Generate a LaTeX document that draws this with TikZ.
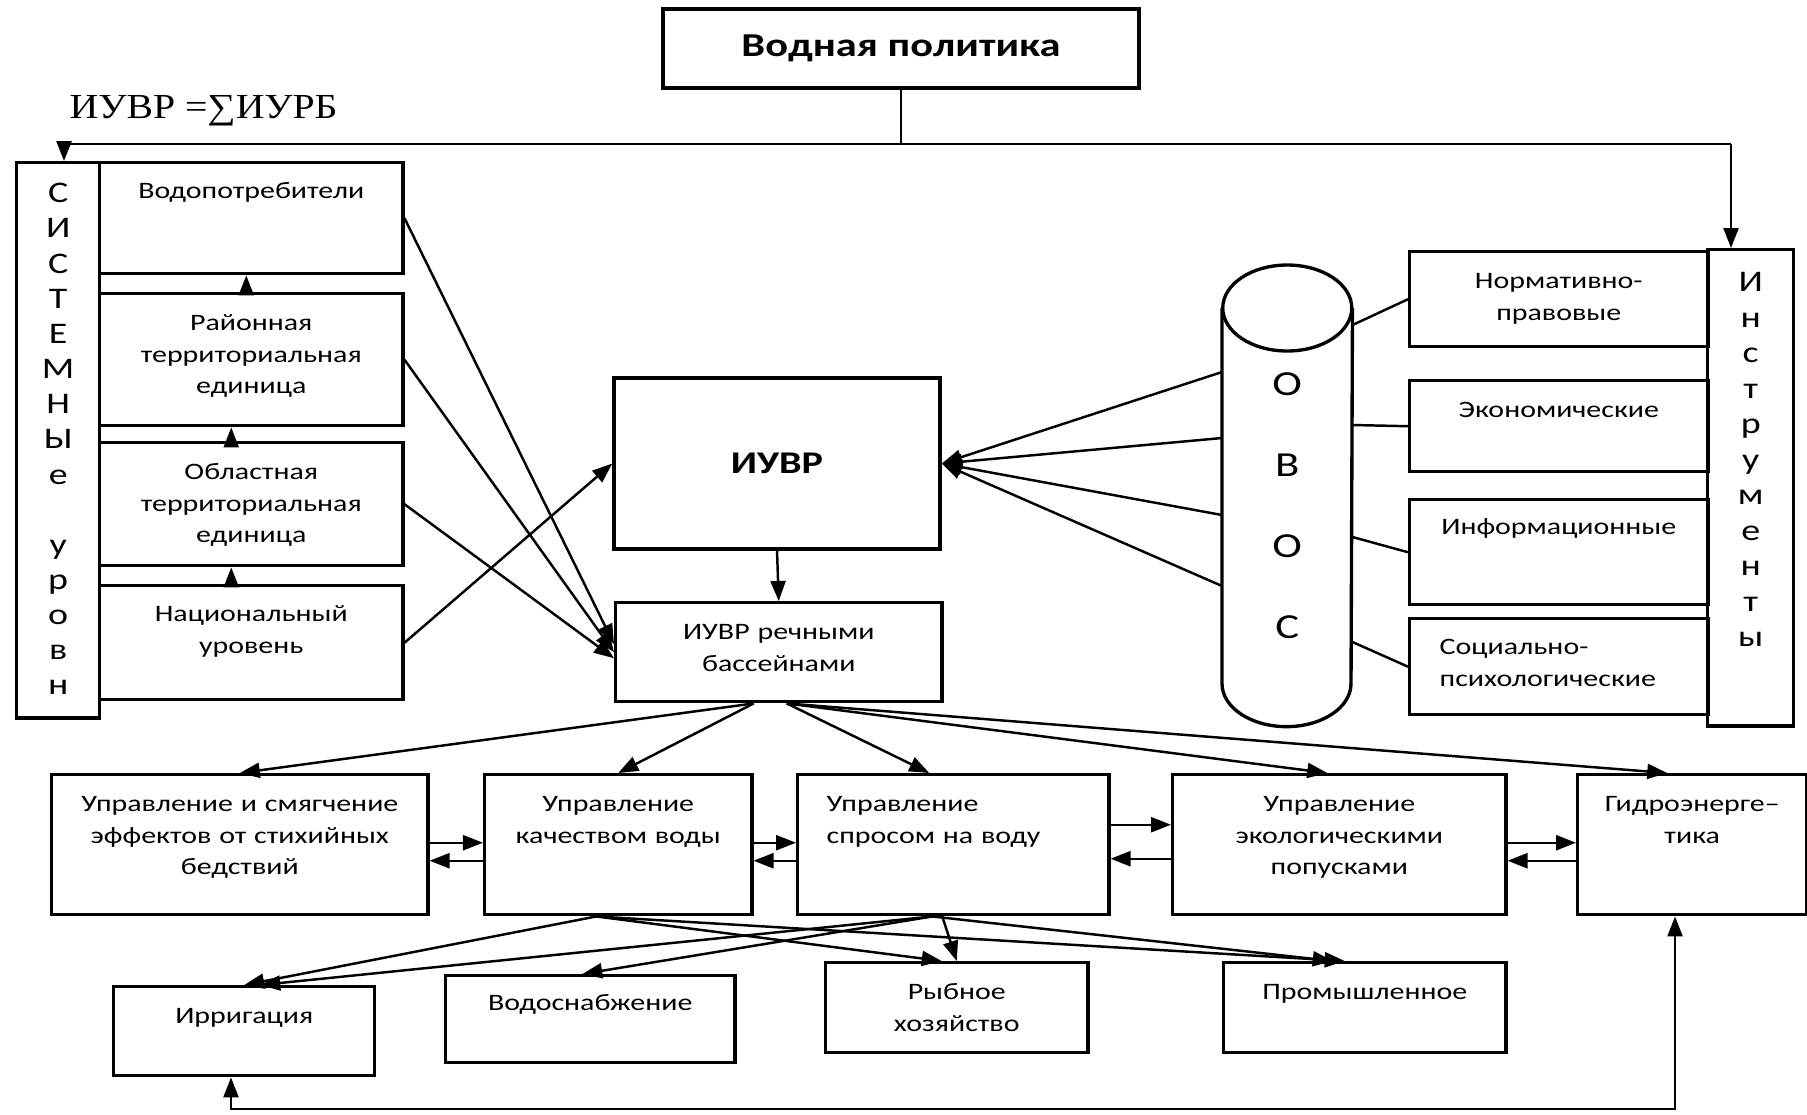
\documentclass[tikz,border=0pt]{standalone}
\usepackage{fontspec}
\setmainfont{Carlito}[FakeStretch=1.27]
\newfontfamily\formulafont{Liberation Serif}[FakeStretch=1.13]
\usetikzlibrary{arrows.meta,calc}
\tikzset{
  box/.style={draw, line width=0.95pt, inner sep=0pt, align=center, font=\fontsize{6.7}{8.9}\selectfont},
  col/.style={box, font=\fontsize{8.5}{10}\selectfont},
  link/.style={line width=0.7pt},
  arr/.style={line width=0.7pt, -{Triangle[length=2mm,width=1.5mm]}},
  darr/.style={line width=0.7pt, {Triangle[length=2mm,width=1.5mm]}-{Triangle[length=2mm,width=1.5mm]}},
}
\begin{document}
\begin{tikzpicture}[x=0.01cm, y=-0.01cm]
\useasboundingbox (0,0) rectangle (1807,1114);

\node[box, font=\bfseries\fontsize{9.5}{11}\selectfont, minimum width=4.76cm, minimum height=0.79cm] (policy) at (901,48.5) {Водная политика};
\node[font=\formulafont\fontsize{10}{12}\selectfont, anchor=west, inner sep=0pt] (formula) at (69,111) {ИУВР =∑ИУРБ};

% levels
\node[col, anchor=north west, text width=0.83cm, text height=0.40cm, text depth=5.15cm] (sys) at (15,161) {С\\И\\С\\Т\\Е\\М\\Н\\Ы\\е\\[0.35cm]у\\р\\о\\в\\н};
\node[box, anchor=north west, text width=3.03cm, text height=0.36cm, text depth=0.75cm] (users) at (98,161) {Водопотребители};
\node[box, anchor=north west, text width=3.03cm, text height=0.37cm, text depth=0.95cm] (district) at (98,292) {Районная\\территориальная\\единица};
\node[box, anchor=north west, text width=3.03cm, text height=0.37cm, text depth=0.86cm] (region) at (98,441) {Областная\\территориальная\\единица};
\node[box, anchor=north west, text width=3.03cm, text height=0.36cm, text depth=0.78cm] (national) at (98,584) {Национальный\\уровень};
\draw[arr] ($(district.north)+(-5,0)$) -- ($(users.south)+(-5,0)$);
\draw[arr] ($(region.north)+(-20,0)$) -- ($(district.south)+(-20,0)$);
\draw[arr] ($(national.north)+(-20,0)$) -- ($(region.south)+(-20,0)$);

\node[box, font=\bfseries\fontsize{9}{11}\selectfont, minimum width=3.26cm, minimum height=1.71cm] (iwrm) at (777,463.5) {ИУВР};
\node[box, anchor=north west, text width=3.26cm, text height=0.37cm, text depth=0.62cm] (basin) at (614,601) {ИУВР речными\\бассейнами};
\draw[arr] (users.east) -- ($(basin.west)+(0,-8)$);
\draw[arr] (district.east) -- (basin.west);
\draw[arr] (region.east) -- ($(basin.west)+(0,6)$);
\draw[arr] (national.east) -- (iwrm.west);
\draw[arr] (iwrm.south) -- (basin.north);

% ovos cylinder
\node[inner sep=0pt, align=center, anchor=north west, text width=1.29cm, text height=0.87cm, text depth=2.87cm, font=\fontsize{10}{23}\selectfont] (ovos) at (1222,308) {О\\В\\О\\С};
\draw[line width=0.95pt] (ovos.north west) -- (ovos.south west) arc[start angle=180, end angle=0, x radius=64.5, y radius=43] -- (ovos.north east);
\draw[line width=0.95pt] (ovos.north) ellipse [x radius=64.5, y radius=43];
\draw[arr] ($(ovos.north west)+(0,64)$) -- (iwrm.east);
\draw[arr] ($(ovos.north west)+(0,130)$) -- (iwrm.east);
\draw[arr] ($(ovos.north west)+(0,207)$) -- (iwrm.east);
\draw[arr] ($(ovos.north west)+(0,278)$) -- (iwrm.east);

% instruments
\node[box, anchor=north west, text width=2.98cm, text height=0.37cm, text depth=0.58cm] (norm) at (1408,250) {Нормативно-\\правовые};
\node[box, anchor=north west, text width=2.98cm, text height=0.37cm, text depth=0.54cm] (econ) at (1408,379) {Экономические};
\node[box, anchor=north west, text width=2.98cm, text height=0.35cm, text depth=0.70cm] (info) at (1408,498) {Информационные};
\node[box, anchor=north west, align=left, inner xsep=0.30cm, text width=2.38cm, text height=0.36cm, text depth=0.60cm] (soc) at (1408,617) {Социально-\\психологические};
\node[col, anchor=north west, text width=0.86cm, text height=0.42cm, text depth=4.34cm, font=\fontsize{8.5}{10.1}\selectfont] (instr) at (1706,248) {И\\н\\с\\т\\р\\у\\м\\е\\н\\т\\ы};
\draw[link] ($(ovos.north east)+(0,17)$) -- (norm.west);
\draw[link] ($(ovos.north east)+(0,117)$) -- (econ.west);
\draw[link] ($(ovos.north east)+(0,229)$) -- (info.west);
\draw[link] ($(ovos.north east)+(0,334)$) -- (soc.west);

% policy line
\coordinate (tl) at (64,144);
\coordinate (tr) at (1731,144);
\draw[link] (policy.south) -- (policy.south |- tl);
\draw[link] (tl) -- (tr);
\draw[arr] (tl) -- (tl |- sys.north);
\draw[arr] (tr) -- (tr |- instr.north);

% management
\node[box, anchor=north west, text width=3.76cm, text height=0.37cm, text depth=1.03cm] (disaster) at (50,773) {Управление и смягчение\\эффектов от стихийных\\бедствий};
\node[box, anchor=north west, text width=2.67cm, text height=0.37cm, text depth=1.03cm] (quality) at (483,773) {Управление\\качеством воды};
\node[box, anchor=north west, align=left, inner xsep=0.29cm, text width=2.53cm, text height=0.37cm, text depth=1.03cm] (demand) at (796,773) {Управление\\спросом на воду};
\node[box, anchor=north west, text width=3.33cm, text height=0.37cm, text depth=1.03cm] (eflow) at (1171,773) {Управление\\экологическими\\попусками};
\node[box, anchor=north west, text width=2.29cm, text height=0.37cm, text depth=1.03cm] (hydro) at (1576,773) {Гидроэнерге–\\тика};
\draw[arr] ($(basin.south)+(-25,0)$) -- (disaster.north);
\draw[arr] ($(basin.south)+(-25,0)$) -- (quality.north);
\draw[arr] ($(basin.south)+(8,0)$) -- ($(demand.north)+(-24,0)$);
\draw[arr] ($(basin.south)+(8,0)$) -- ($(eflow.north)+(-12,0)$);
\draw[arr] ($(basin.south)+(8,0)$) -- ($(hydro.north)+(-25,0)$);
\draw[arr] ($(disaster.east)+(0,-2)$) -- ($(quality.west)+(0,-2)$);
\draw[arr] ($(quality.west)+(0,16)$) -- ($(disaster.east)+(0,16)$);
\draw[arr] ($(quality.east)+(0,-2)$) -- ($(demand.west)+(0,-2)$);
\draw[arr] ($(demand.west)+(0,16)$) -- ($(quality.east)+(0,16)$);
\draw[arr] ($(demand.east)+(0,-20)$) -- ($(eflow.west)+(0,-20)$);
\draw[arr] ($(eflow.west)+(0,14)$) -- ($(demand.east)+(0,14)$);
\draw[arr] ($(eflow.east)+(0,-2)$) -- ($(hydro.west)+(0,-2)$);
\draw[arr] ($(hydro.west)+(0,16)$) -- ($(eflow.east)+(0,16)$);

% users of water
\node[box, anchor=north west, text width=2.61cm, text height=0.37cm, text depth=0.52cm] (irrigation) at (112,985) {Ирригация};
\node[box, anchor=north west, text width=2.89cm, text height=0.35cm, text depth=0.52cm] (supply) at (444,974) {Водоснабжение};
\node[box, anchor=north west, text width=2.62cm, text height=0.37cm, text depth=0.53cm] (fishery) at (824,961) {Рыбное\\хозяйство};
\node[box, anchor=north west, text width=2.82cm, text height=0.37cm, text depth=0.53cm] (industry) at (1222,961) {Промышленное};
\draw[arr] ($(quality.south)+(-22,0)$) -- (irrigation.north);
\draw[arr] ($(quality.south)+(-22,0)$) -- ($(fishery.north)+(-15,0)$);
\draw[arr] ($(quality.south)+(-22,0)$) -- ($(industry.north)+(-20,0)$);
\draw[arr] ($(demand.south)+(-21,0)$) -- ($(irrigation.north)+(16,0)$);
\draw[arr] ($(demand.south)+(-21,0)$) -- ($(supply.north)+(-8,0)$);
\draw[arr] ($(demand.south)+(-11,0)$) -- (fishery.north);
\draw[arr] ($(demand.south)+(-21,0)$) -- ($(industry.north)+(-32,0)$);

\coordinate (fbl) at (231,1109);
\coordinate (fbr) at (1675,1109);
\draw[darr] (fbl |- irrigation.south) -- (fbl) -- (fbr) -- (fbr |- hydro.south);
\end{tikzpicture}
\end{document}
